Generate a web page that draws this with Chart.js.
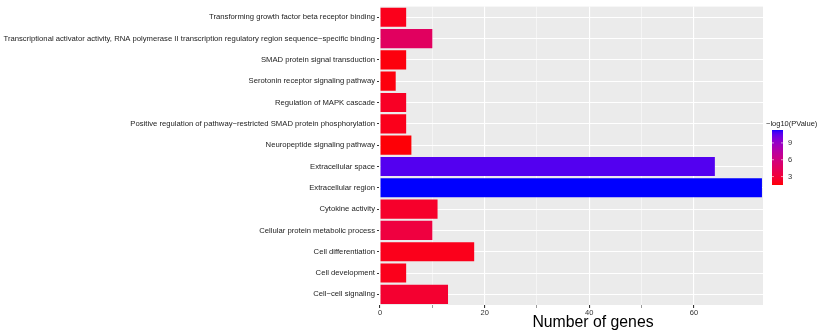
<!DOCTYPE html>
<html>
<head>
<meta charset="utf-8">
<script src="https://cdn.jsdelivr.net/npm/chart.js"></script>
<style>
  html, body { margin: 0; padding: 0; background: #fff; }
  #wrap { width: 824px; height: 333px; }
</style>
</head>
<body>
<div id="wrap"><canvas id="grafico"></canvas></div>
<script>
// data, top to bottom
var terms = [
  "Transforming growth factor beta receptor binding",
  "Transcriptional activator activity, RNA polymerase II transcription regulatory region sequence\u2212specific binding",
  "SMAD protein signal transduction",
  "Serotonin receptor signaling pathway",
  "Regulation of MAPK cascade",
  "Positive regulation of pathway\u2212restricted SMAD protein phosphorylation",
  "Neuropeptide signaling pathway",
  "Extracellular space",
  "Extracellular region",
  "Cytokine activity",
  "Cellular protein metabolic process",
  "Cell differentiation",
  "Cell development",
  "Cell\u2212cell signaling"
];
var geneCounts = [5, 10, 5, 3, 5, 5, 6, 64, 73, 11, 10, 18, 5, 13];
var logP = [2.0, 4.6, 1.7, 1.7, 2.3, 2.0, 1.6, 10.7, 11.3, 2.5, 3.3, 2.0, 2.0, 2.7];
var xTicks = [0, 20, 40, 60];
var legendTicks = [3, 6, 9];
var xTitle = 'Number of genes';

var pMin = 1.5, pMax = 11.3;

// red -> blue through Lab, like scale_fill_gradient
function toLab(r, g, b) {
  var f = function (c) { c /= 255; return c > 0.04045 ? Math.pow((c + 0.055) / 1.055, 2.4) : c / 12.92; };
  r = f(r); g = f(g); b = f(b);
  var x = (r * 0.4124 + g * 0.3576 + b * 0.1805) / 0.95047;
  var y = (r * 0.2126 + g * 0.7152 + b * 0.0722);
  var z = (r * 0.0193 + g * 0.1192 + b * 0.9505) / 1.08883;
  var h = function (t) { return t > 0.008856 ? Math.cbrt(t) : 7.787 * t + 16 / 116; };
  x = h(x); y = h(y); z = h(z);
  return [116 * y - 16, 500 * (x - y), 200 * (y - z)];
}
function fromLab(L, a, bb) {
  var y = (L + 16) / 116, x = a / 500 + y, z = y - bb / 200;
  var h = function (t) { return t * t * t > 0.008856 ? t * t * t : (t - 16 / 116) / 7.787; };
  x = h(x) * 0.95047; y = h(y); z = h(z) * 1.08883;
  var r = x * 3.2406 + y * -1.5372 + z * -0.4986;
  var g = x * -0.9689 + y * 1.8758 + z * 0.0415;
  var b = x * 0.0557 + y * -0.2040 + z * 1.0570;
  var f = function (c) {
    c = c > 0.0031308 ? 1.055 * Math.pow(c, 1 / 2.4) - 0.055 : 12.92 * c;
    return Math.round(Math.max(0, Math.min(1, c)) * 255);
  };
  return 'rgb(' + f(r) + ',' + f(g) + ',' + f(b) + ')';
}
var labLow = toLab(255, 0, 0), labHigh = toLab(0, 0, 255);
function colorFor(v) {
  var t = Math.max(0, Math.min(1, (v - pMin) / (pMax - pMin)));
  return fromLab(labLow[0] + (labHigh[0] - labLow[0]) * t,
                 labLow[1] + (labHigh[1] - labLow[1]) * t,
                 labLow[2] + (labHigh[2] - labLow[2]) * t);
}
var barColors = logP.map(colorFor);

// grey panel behind the bars
const panelBg = {
  id: 'panelBg',
  beforeDraw(chart) {
    const a = chart.chartArea, c = chart.ctx;
    c.save();
    c.fillStyle = '#EBEBEB';
    c.fillRect(a.left, a.top, a.right - a.left, a.bottom - a.top);
    c.restore();
  }
};

// colour bar legend + x title
const colorBar = {
  id: 'colorBar',
  afterDraw(chart) {
    const c = chart.ctx;
    const x0 = 772, w = 11, top = 130, bottom = 185;
    c.save();
    for (let y = top; y < bottom; y++) {
      const v = pMax - (y - top + 0.5) / (bottom - top) * (pMax - pMin);
      c.fillStyle = colorFor(v);
      c.fillRect(x0, y, w, 1);
    }
    c.font = '7.5px "Liberation Sans", Arial, sans-serif';
    c.fillStyle = '#222';
    c.textBaseline = 'middle';
    c.textAlign = 'left';
    c.fillText('\u2212log10(PValue)', 766, 124);
    legendTicks.forEach(function (v) {
      const y = bottom - (v - pMin) / (pMax - pMin) * (bottom - top);
      c.strokeStyle = '#fff';
      c.lineWidth = 0.6;
      c.beginPath();
      c.moveTo(x0, y); c.lineTo(x0 + 2, y);
      c.moveTo(x0 + w - 2, y); c.lineTo(x0 + w, y);
      c.stroke();
      c.fillStyle = '#333';
      c.fillText(String(v), x0 + w + 5, y);
    });
    // axis title sits right of the panel centre in the original
    c.font = '15.8px "Liberation Sans", Arial, sans-serif';
    c.fillStyle = '#000';
    c.textAlign = 'center';
    c.textBaseline = 'alphabetic';
    c.fillText(xTitle, 593, 327);
    c.restore();
  }
};

new Chart(document.getElementById('grafico'), {
  type: 'bar',
  data: {
    labels: terms,
    datasets: [{
      label: xTitle,
      data: geneCounts,
      backgroundColor: barColors,
      borderWidth: 0,
      barPercentage: 0.9,
      categoryPercentage: 1.0
    }]
  },
  options: {
    indexAxis: 'y',
    responsive: true,
    maintainAspectRatio: false,
    animation: false,
    layout: { padding: { top: 3, right: 61, left: 0, bottom: 0 } },
    plugins: {
      legend: { display: false },
      tooltip: { enabled: false }
    },
    scales: {
      y: {
        offset: true,
        afterFit: function (s) { s.width = 380; },
        border: { display: false },
        grid: {
          offset: false,
          color: '#fff',
          lineWidth: 1,
          tickColor: '#333',
          tickLength: 3
        },
        ticks: {
          color: '#222',
          padding: 2,
          font: { family: '"Liberation Sans", Arial, sans-serif', size: 7.7 }
        }
      },
      x: {
        min: 0,
        max: 73.2,
        afterFit: function (s) { s.height = 28; },
        border: { display: false },
        grid: {
          color: '#fff',
          lineWidth: function (ctx) {
            if (!ctx.tick) return 0;
            var v = ctx.tick.value;
            if (v % 20 === 0) return 1.1;
            if (v % 10 === 0) return 0.5;
            return 0;
          },
          tickColor: '#333',
          tickLength: 3
        },
        ticks: {
          stepSize: 10,
          autoSkip: false,
          maxRotation: 0,
          color: '#333',
          padding: 0,
          font: { family: '"Liberation Sans", Arial, sans-serif', size: 7.5 },
          callback: function (v) { return xTicks.indexOf(v) >= 0 ? String(v) : ''; }
        },
        title: { display: false }
      }
    }
  },
  plugins: [panelBg, colorBar]
});
</script>
</body>
</html>
